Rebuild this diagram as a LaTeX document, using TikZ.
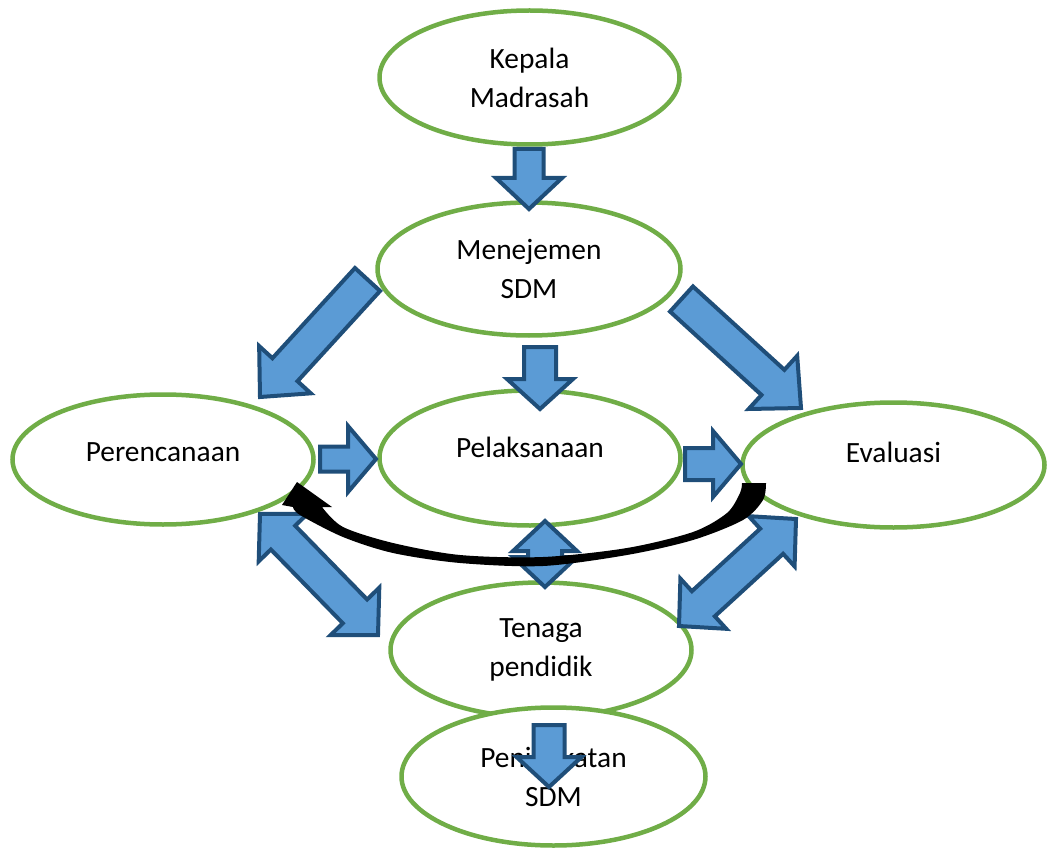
\documentclass[tikz,border=0pt]{standalone}
\usepackage{fontspec}
\setmainfont{Carlito}
\usepackage{tikz}
\usetikzlibrary{calc}
\usetikzlibrary{shapes.geometric}
\definecolor{sdmgreen}{HTML}{70AD47}
\definecolor{arrowfill}{HTML}{5B9BD5}
\definecolor{arrowline}{HTML}{1F4E79}

% block arrow: tail, tip, shaft half width, head half width, head length
\newcommand{\bluearrow}[5]{%
  \coordinate (hb) at ($(#2)!#5!(#1)$);
  \filldraw[blockarrow] ($(#1)!#3!90:(#2)$) -- ($(hb)!#3!90:(#2)$) -- ($(hb)!#4!90:(#2)$)
    -- (#2) -- ($(hb)!#4!-90:(#2)$) -- ($(hb)!#3!-90:(#2)$) -- ($(#1)!#3!-90:(#2)$) -- cycle;
}
% double block arrow: tip, tip, shaft half width, head half width, head length
\newcommand{\bluedoublearrow}[5]{%
  \coordinate (ha) at ($(#1)!#5!(#2)$);
  \coordinate (hb) at ($(#2)!#5!(#1)$);
  \filldraw[blockarrow] (#1) -- ($(ha)!#4!90:(#2)$) -- ($(ha)!#3!90:(#2)$)
    -- ($(hb)!#3!-90:(#1)$) -- ($(hb)!#4!-90:(#1)$) -- (#2)
    -- ($(hb)!#4!90:(#1)$) -- ($(hb)!#3!90:(#1)$)
    -- ($(ha)!#3!-90:(#2)$) -- ($(ha)!#4!-90:(#2)$) -- cycle;
}

\begin{document}
\begin{tikzpicture}[x=1pt, y=-1pt,
  ell/.style={ellipse, draw=sdmgreen, line width=4.5pt, fill=white, align=center,
    inner sep=0pt, font=\fontsize{29.4}{39}\selectfont},
  blockarrow/.style={fill=arrowfill, draw=arrowline, line width=4pt, line join=miter}]

  \useasboundingbox (0,0) rectangle (1055,853);

  % Top
  \node[ell, minimum width=300pt, minimum height=134pt] (kepala) at (529.5,77.5) {Kepala\\Madrasah};
  \node[ell, minimum width=303pt, minimum height=133pt] (menejemen) at (529,269) {Menejemen\\SDM};
  \bluearrow{529,149}{529,209}{14.5pt}{33pt}{31pt}

  % Middle row
  \node[ell, minimum width=301pt, minimum height=130pt, text depth=14pt] (perencanaan) at (163,459.5) {Perencanaan};
  \node[ell, minimum width=301pt, minimum height=135pt, text depth=22pt] (pelaksanaan) at (530,458) {Pelaksanaan};
  \node[ell, minimum width=302pt, minimum height=125pt, text depth=26pt] (evaluasi) at (893.5,465) {Evaluasi};
  \bluearrow{540,347}{540,409}{16pt}{33pt}{30pt}
  \bluearrow{320,459}{376,459}{12.5pt}{33pt}{28pt}
  \bluearrow{685,464}{741,464}{16pt}{33pt}{28pt}
  \bluearrow{367.5,279.5}{260,397}{17pt}{35pt}{37pt}
  \bluearrow{681.5,299}{801,408}{17pt}{36pt}{38pt}

  % Bottom
  \node[ell, minimum width=301pt, minimum height=135pt] (tenaga) at (541,650) {Tenaga\\pendidik};
  \node[ell, minimum width=304pt, minimum height=138pt] (peningkatan) at (553.5,776.5) {Peningkatan\\SDM};
  \bluedoublearrow{260,514}{378,635}{17pt}{34pt}{33pt}
  \bluedoublearrow{796,519}{679,626}{17pt}{34pt}{33pt}
  \bluedoublearrow{545,521}{545,587}{17pt}{32pt}{30pt}
  \bluearrow{549,725}{549,787}{15.5pt}{32.5pt}{30pt}

  % Feedback curve
  \fill[black] plot[smooth, tension=0.5] coordinates {(742,483) (740,493) (727,513) (693,532)
      (627,548) (543,557) (460,555) (393,543) (343,527) (322,507)}
    -- (332,507) -- (297,482) -- (282,505)
    -- plot[smooth, tension=0.5] coordinates {(293,507) (300,515) (343,537) (393,553) (460,563)
      (543,566) (627,555) (693,540) (743,520) (763,500) (766,483)} -- cycle;

\end{tikzpicture}
\end{document}
